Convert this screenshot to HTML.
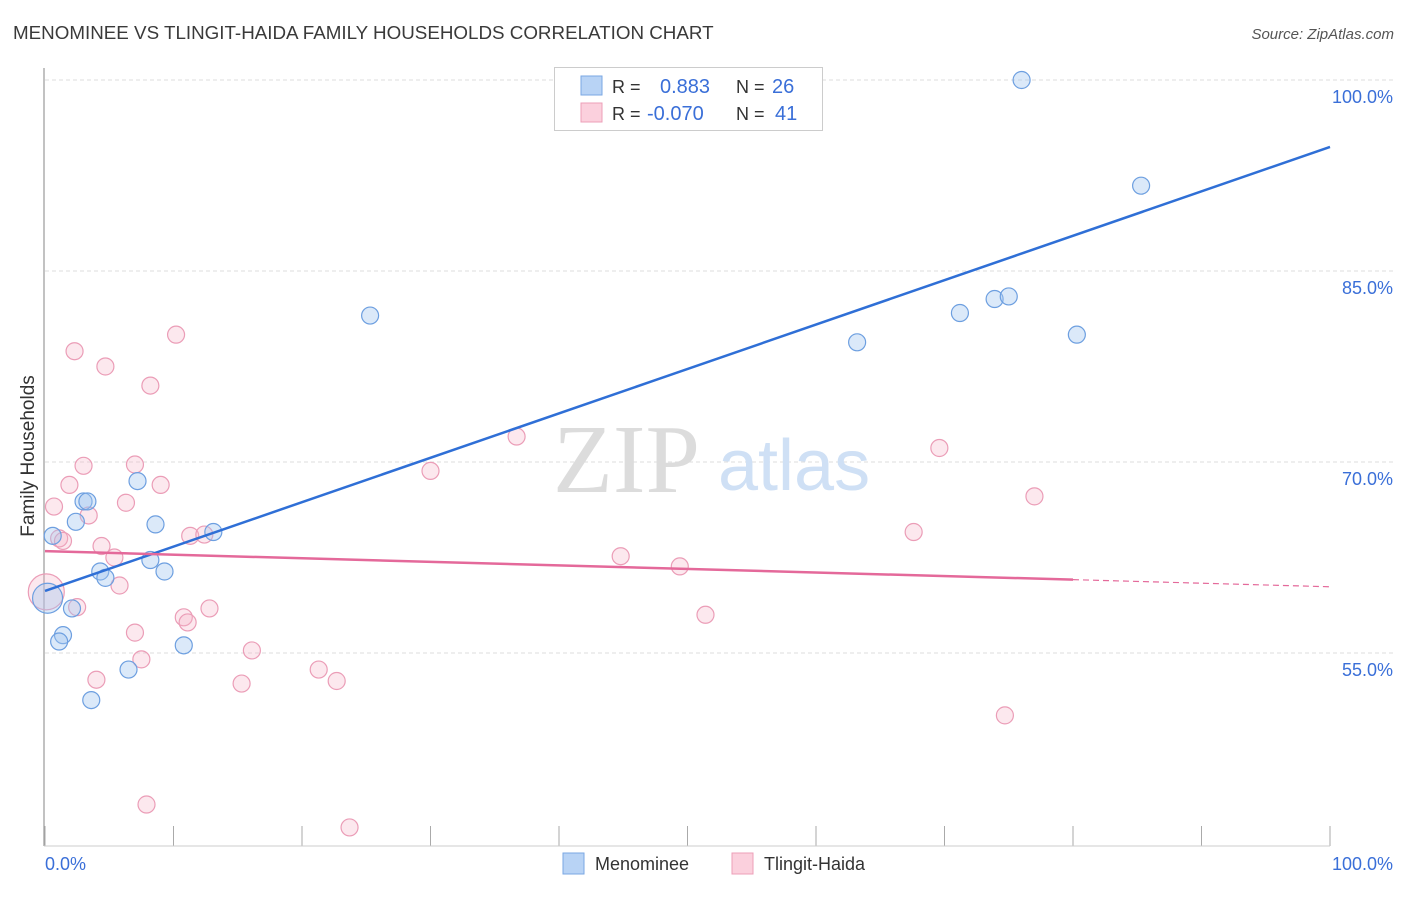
<!DOCTYPE html>
<html><head><meta charset="utf-8"><style>
body{margin:0;background:#fff;font-family:"Liberation Sans",sans-serif;}
</style></head><body>
<svg width="1406" height="892" viewBox="0 0 1406 892" xmlns="http://www.w3.org/2000/svg">
<text x="13" y="39" font-size="18.8" fill="#3a3a3a">MENOMINEE VS TLINGIT-HAIDA FAMILY HOUSEHOLDS CORRELATION CHART</text>
<text x="1394" y="39" font-size="15" fill="#555" font-style="italic" text-anchor="end">Source: ZipAtlas.com</text>
<g id="grid"></g>
<text x="553" y="492" font-size="98" font-family="Liberation Serif,serif" fill="#dcdcdc">ZIP</text>
<text x="718" y="490" font-size="72" fill="#cfe0f5">atlas</text>
<line x1="44" y1="68" x2="44" y2="846" stroke="#999" stroke-width="1.2"/>
<g id="xt"></g>
<g id="pts"></g>
<g id="lines"></g>
<text x="34" y="456" font-size="19" fill="#333" transform="rotate(-90 34 456)" text-anchor="middle">Family Households</text>
<text x="45" y="870" font-size="18" fill="#3a6fd8">0.0%</text>
<text x="1393" y="870" font-size="18" fill="#3a6fd8" text-anchor="end">100.0%</text>
<g>
<rect x="554.5" y="67.5" width="268" height="63" fill="#fff" stroke="#ccc"/>
<rect x="581" y="76" width="21" height="19" fill="#b8d3f5" stroke="#7aa7e3"/>
<rect x="581" y="103" width="21" height="19" fill="#fbd0dd" stroke="#ec9fb8"/>
<text x="612" y="93" font-size="18" fill="#333">R =</text>
<text x="660" y="93" font-size="20" fill="#3a6fd8">0.883</text>
<text x="736" y="93" font-size="18" fill="#333">N =</text>
<text x="772" y="93" font-size="20" fill="#3a6fd8">26</text>
<text x="612" y="120" font-size="18" fill="#333">R =</text>
<text x="647" y="120" font-size="20" fill="#3a6fd8">-0.070</text>
<text x="736" y="120" font-size="18" fill="#333">N =</text>
<text x="775" y="120" font-size="20" fill="#3a6fd8">41</text>
</g>
<g>
<rect x="563" y="853" width="21" height="21" fill="#b8d3f5" stroke="#7aa7e3"/>
<text x="595" y="870" font-size="18" fill="#333">Menominee</text>
<rect x="732" y="853" width="21" height="21" fill="#fbd0dd" stroke="#ec9fb8"/>
<text x="764" y="870" font-size="18" fill="#333">Tlingit-Haida</text>
</g>
</svg>
<script>
const yTicks=[100,85,70,55];
const yTickLabels=["100.0%","85.0%","70.0%","55.0%"];
const blueX=[76.0,85.3,25.3,63.2,71.2,73.9,75.0,80.3,0.6,2.4,3.0,3.3,7.2,8.6,8.2,9.3,13.1,4.3,4.7,2.1,1.4,1.1,10.8,6.5,3.6,0.2];
const blueY=[100.0,91.7,81.5,79.4,81.7,82.8,83.0,80.0,64.2,65.3,66.9,66.9,68.5,65.1,62.3,61.4,64.5,61.4,60.9,58.5,56.4,55.9,55.6,53.7,51.3,59.3];
const pinkX=[0.1,0.7,1.1,1.4,1.9,2.3,3.0,3.4,4.4,4.7,5.4,5.8,6.3,7.0,7.0,7.5,8.2,7.9,9.0,10.2,10.8,11.1,11.3,12.4,12.8,15.3,16.1,21.3,22.7,23.7,30.0,36.7,44.8,49.4,51.4,67.6,69.6,74.7,77.0,4.0,2.5];
const pinkY=[59.8,66.5,64.0,63.8,68.2,78.7,69.7,65.8,63.4,77.5,62.5,60.3,66.8,69.8,56.6,54.5,76.0,43.1,68.2,80.0,57.8,57.4,64.2,64.3,58.5,52.6,55.2,53.7,52.8,41.3,69.3,72.0,62.6,61.8,58.0,64.5,71.1,50.1,67.3,52.9,58.6];
const blueTrend=[59.87,94.74];
const pinkTrend=[63.0,60.2];
const pinkSolidEnd=80;
const NS="http://www.w3.org/2000/svg";
const X=v=>45+v*12.85;
const Y=v=>80+(100-v)*12.733;
function mk(tag,attrs,parent){const e=document.createElementNS(NS,tag);for(const k in attrs)e.setAttribute(k,attrs[k]);parent.appendChild(e);return e;}
const grid=document.getElementById('grid');
yTicks.forEach((t,i)=>{
 const l=mk('line',{x1:45,x2:1394,y1:Y(t),y2:Y(t),stroke:'#ddd','stroke-dasharray':'4,3'},grid);
 
 
 const tx=mk('text',{x:1393,y:Y(t)+23,'font-size':18,fill:'#3a6fd8','text-anchor':'end'},grid);
 tx.textContent=yTickLabels[i];
 
 
});
const xt=document.getElementById('xt');
for(let i=0;i<=10;i++){
 const l=mk('line',{x1:X(i*10),x2:X(i*10),y1:826,y2:846,stroke:'#aaa'},xt);
 
 
}
mk('line',{x1:44,x2:1330,y1:846,y2:846,stroke:'#ccc'},xt);
const pts=document.getElementById('pts');
pinkX.forEach((x,i)=>{
 const c=mk('circle',{cx:X(x),cy:Y(pinkY[i]),r:i===0?18:8.5,fill:'rgba(246,178,200,0.3)',stroke:'#eb9db7','stroke-width':1.2},pts);
 
 
});
blueX.forEach((x,i)=>{
 const c=mk('circle',{cx:X(x),cy:Y(blueY[i]),r:i===25?15:8.5,fill:'rgba(160,196,240,0.38)',stroke:'#6d9fe0','stroke-width':1.2},pts);
 
 
});
const lines=document.getElementById('lines');
const b=mk('line',{x1:X(0),y1:Y(blueTrend[0]),x2:X(100),y2:Y(blueTrend[1]),stroke:'#2f6fd6','stroke-width':2.5},lines);


const pAt=v=>pinkTrend[0]+(pinkTrend[1]-pinkTrend[0])*v/100;
const p=mk('line',{x1:X(0),y1:Y(pAt(0)),x2:X(pinkSolidEnd),y2:Y(pAt(pinkSolidEnd)),stroke:'#e4699a','stroke-width':2.5},lines);


const pd=mk('line',{x1:X(pinkSolidEnd),y1:Y(pAt(pinkSolidEnd)),x2:X(100),y2:Y(pAt(100)),stroke:'#e4699a','stroke-width':1.2,'stroke-dasharray':'6,4'},lines);


</script>
</body></html>
